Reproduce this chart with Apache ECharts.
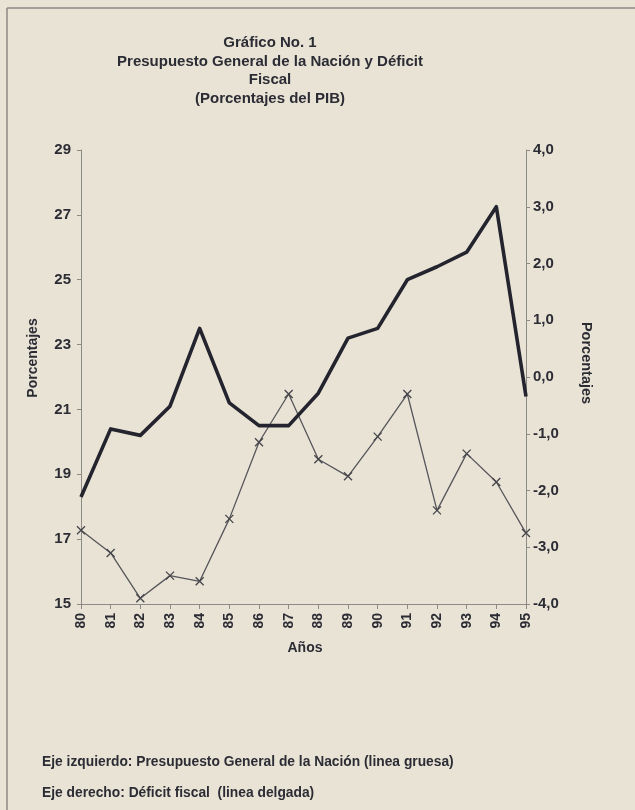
<!DOCTYPE html>
<html>
<head>
<meta charset="utf-8">
<script src="https://cdn.jsdelivr.net/npm/echarts@6/dist/echarts.min.js"></script>
<style>
  html, body { margin: 0; padding: 0; background: #e9e3d6; }
  #chart { width: 635px; height: 810px; }
</style>
</head>
<body>
<div id="chart"></div>
<script>
// años (eje x)
const years = ['80', '81', '82', '83', '84', '85', '86', '87', '88', '89', '90', '91', '92', '93', '94', '95'];
// eje izquierdo: Presupuesto General de la Nación (% PIB)
const presupuesto = [18.3, 20.4, 20.2, 21.1, 23.5, 21.2, 20.5, 20.5, 21.5, 23.2, 23.5, 25.0, 25.4, 25.85, 27.25, 21.4];
// eje derecho: Déficit fiscal (% PIB)
const deficit = [-2.7, -3.1, -3.9, -3.5, -3.6, -2.5, -1.15, -0.3, -1.45, -1.75, -1.05, -0.3, -2.35, -1.35, -1.85, -2.75];

const titleLines = ['Gráfico No. 1', 'Presupuesto General de la Nación y Déficit', 'Fiscal', '(Porcentajes del PIB)'];
const notes = ['Eje izquierdo: Presupuesto General de la Nación (linea gruesa)', 'Eje derecho: Déficit fiscal  (linea delgada)'];

const ink = '#2c2c34';
const axisGray = '#8c8a86';
const font = 'Liberation Sans, Arial, sans-serif';

const chart = echarts.init(document.getElementById('chart'));

const graphics = [
  // marco de la página
  { type: 'line', shape: { x1: 7, y1: 8, x2: 7, y2: 810 }, style: { stroke: '#8d8a84', lineWidth: 1.5 } },
  { type: 'line', shape: { x1: 7, y1: 8, x2: 635, y2: 8 }, style: { stroke: '#8d8a84', lineWidth: 1.5 } },
  // nombres de los ejes
  { type: 'text', x: 33, y: 358, rotation: Math.PI / 2,
    style: { text: 'Porcentajes', font: 'bold 14px ' + font, fill: ink, align: 'center', verticalAlign: 'middle' } },
  { type: 'text', x: 586, y: 363, rotation: -Math.PI / 2,
    style: { text: 'Porcentajes', font: 'bold 14.5px ' + font, fill: ink, align: 'center', verticalAlign: 'middle' } },
  { type: 'text', x: 305, y: 648,
    style: { text: 'Años', font: 'bold 14px ' + font, fill: ink, align: 'center', verticalAlign: 'middle' } }
];
titleLines.forEach((t, i) => {
  graphics.push({ type: 'text', x: 270, y: 43 + i * 18.5,
    style: { text: t, font: 'bold 15px ' + font, fill: ink, align: 'center', verticalAlign: 'middle' } });
});
notes.forEach((t, i) => {
  graphics.push({ type: 'text', x: 42, y: 762 + i * 31,
    style: { text: t, font: 'bold 13.8px ' + font, fill: ink, align: 'left', verticalAlign: 'middle' } });
});

const option = {
  backgroundColor: '#e9e3d6',
  animation: false,
  grid: { left: 81, right: 109, top: 150, bottom: 206 },
  xAxis: {
    type: 'category',
    data: years,
    boundaryGap: false,
    axisLine: { onZero: false, lineStyle: { color: axisGray, width: 1 } },
    axisTick: { alignWithLabel: true, length: 5, lineStyle: { color: axisGray } },
    axisLabel: { rotate: 90, margin: 9, color: ink, fontWeight: 'bold', fontSize: 14, fontFamily: font }
  },
  yAxis: [
    {
      type: 'value', min: 15, max: 29, interval: 2, position: 'left',
      splitLine: { show: false },
      axisLine: { show: true, lineStyle: { color: axisGray, width: 1 } },
      axisTick: { show: true, length: 4, lineStyle: { color: axisGray } },
      axisLabel: { margin: 10, color: ink, fontWeight: 'bold', fontSize: 15, fontFamily: font }
    },
    {
      type: 'value', min: -4, max: 4, interval: 1, position: 'right',
      splitLine: { show: false },
      axisLine: { show: true, lineStyle: { color: axisGray, width: 1 } },
      axisTick: { show: true, length: 4, lineStyle: { color: axisGray } },
      axisLabel: {
        margin: 7, color: ink, fontWeight: 'bold', fontSize: 15, fontFamily: font,
        formatter: v => v.toFixed(1).replace('.', ',')
      }
    }
  ],
  series: [
    {
      name: 'Presupuesto General de la Nación',
      type: 'line',
      yAxisIndex: 0,
      data: presupuesto,
      showSymbol: false,
      lineStyle: { color: '#24242e', width: 3.6, join: 'round' },
      z: 3
    },
    {
      name: 'Déficit fiscal',
      type: 'line',
      yAxisIndex: 1,
      data: deficit,
      symbol: 'path://M0,0L10,10M10,0L0,10',
      symbolSize: 8,
      itemStyle: { color: 'none', borderColor: '#44444a', borderWidth: 1.3 },
      lineStyle: { color: '#55555a', width: 1.3 },
      z: 2
    }
  ],
  graphic: graphics
};

chart.setOption(option);
</script>
</body>
</html>
